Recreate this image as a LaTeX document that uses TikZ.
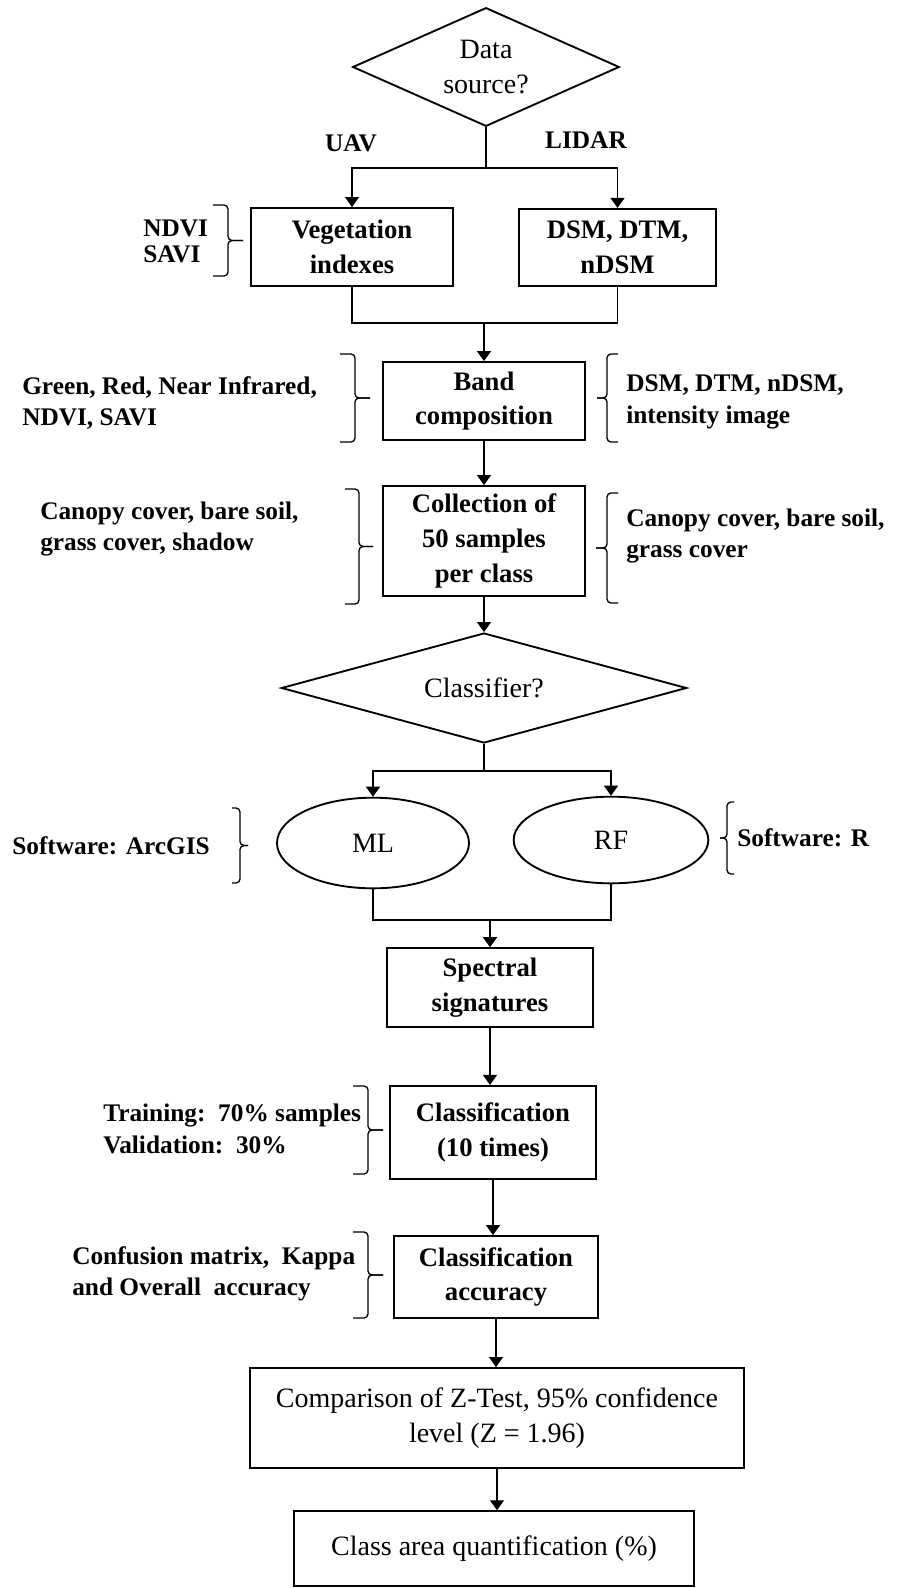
\documentclass[tikz,border=0pt]{standalone}
\usepackage{fontspec}
\setmainfont{Liberation Serif}
\usetikzlibrary{shapes.geometric,arrows.meta}

\tikzset{
  box/.style={draw, line width=1.4pt, inner sep=0pt, align=center, font=\bfseries\fontsize{20}{26}\selectfont},
  plainbox/.style={draw, line width=1.4pt, inner sep=0pt, align=center, font=\fontsize{21}{26}\selectfont},
  decis/.style={draw, diamond, line width=1.4pt, inner sep=0pt, align=center, font=\fontsize{21}{26}\selectfont},
  oval/.style={draw, ellipse, line width=1.4pt, inner sep=0pt, font=\fontsize{21}{26}\selectfont},
  note/.style={inner sep=0pt, align=left, anchor=west, font=\bfseries\fontsize{19}{23.5}\selectfont},
  link/.style={line width=1pt},
  arr/.style={line width=1pt, -{Triangle[length=7.5pt,width=10.5pt]}},
  brk/.style={line width=1pt, rounded corners=3pt},
}

\begin{document}
\begin{tikzpicture}[x=0.75pt,y=0.75pt,yscale=-1,xscale=1]
		\useasboundingbox (0,0) rectangle (902,1588);
		
		% Decision Node
		\draw (486,67) node [decis, minimum width=200pt, minimum height=89pt, aspect=2.25] (dsrc) {Data\\source?};
		% Text Node
		\draw (351,143) node [note, anchor=center] (uav) {UAV};
		% Text Node
		\draw (586,140) node [note, anchor=center] (lidar) {LIDAR};
		% Box Nodes
		\draw (352,247) node [box, minimum width=152pt, minimum height=58.5pt] (veg) {Vegetation\\indexes};
		\draw (617.5,247.5) node [box, minimum width=148pt, minimum height=58pt] (dsm) {DSM, DTM,\\nDSM};
		\draw (484,401) node [box, minimum width=152pt, minimum height=58.5pt] (band) {Band\\composition};
		\draw (484,541) node [box, minimum width=152pt, minimum height=82.5pt] (coll) {Collection of\\50 samples\\per class};
		% Decision Node
		\draw (484,688) node [decis, minimum width=304pt, minimum height=82.5pt, aspect=3.7] (clsf) {Classifier?};
		% Ellipse Nodes
		\draw (373,843) node [oval, minimum width=144pt, minimum height=68pt] (ml) {ML};
		\draw (611,840) node [oval, minimum width=146pt, minimum height=65pt] (rf) {RF};
		% Box Nodes
		\draw (490,987.5) node [box, minimum width=154.5pt, minimum height=59pt] (spec) {Spectral\\signatures};
		\draw (493,1132.5) node [box, minimum width=154pt, minimum height=70pt] (cls) {Classification\\(10 times)};
		\draw (496,1277) node [box, minimum width=153pt, minimum height=61.5pt] (acc) {Classification\\accuracy};
		\draw (497,1418) node [plainbox, minimum width=370pt, minimum height=75pt] (cmp) {Comparison of Z-Test, 95\% confidence\\level (Z = 1.96)};
		\draw (494,1548.5) node [plainbox, minimum width=300pt, minimum height=56pt] (area) {Class area quantification (\%)};
		
		% Text Nodes
		\draw (143,241) node [note, font=\bfseries\fontsize{19}{19.5}\selectfont] (ndvi) {NDVI\\SAVI};
		\draw (22,403) node [note] (bandl) {Green, Red, Near Infrared,\\NDVI, SAVI};
		\draw (626,402) node [note] (bandr) {DSM, DTM, nDSM,\\intensity image};
		\draw (40,529) node [note] (colll) {Canopy cover, bare soil,\\grass cover, shadow};
		\draw (626,536) node [note] (collr) {Canopy cover, bare soil,\\grass cover};
		\draw (12,846) node [note] (mlsw) {Software: ArcGIS};
		\draw (737,838) node [note] (rfsw) {Software: R};
		\draw (103,1129) node [note] (train) {Training:\ \ 70\% samples\\Validation:\ \ 30\%};
		\draw (72,1274) node [note] (conf) {Confusion matrix,\ \ Kappa\\and Overall\ \ accuracy};
		
		% Join Points
		\coordinate (split1) at (486,168);
		\coordinate (join1) at (484,323);
		\coordinate (split2) at (484,771);
		\coordinate (join2) at (490,920);
		
		%Straight Lines
		\draw [link] (dsrc.south) -- (split1);
		\draw [arr] (split1) -| (veg.north);
		\draw [arr] (split1) -| (dsm.north);
		\draw [link] (veg.south) |- (join1) -| (dsm.south);
		\draw [arr] (join1) -- (band.north);
		\draw [arr] (band.south) -- (coll.north);
		\draw [arr] (coll.south) -- (clsf.north);
		\draw [link] (clsf.south) -- (split2);
		\draw [arr] (split2) -| (ml.north);
		\draw [arr] (split2) -| (rf.north);
		\draw [link] (ml.south) |- (join2) -| (rf.south);
		\draw [arr] (join2) -- (spec.north);
		\draw [arr] (spec.south) -- (spec.south |- cls.north);
		\draw [arr] (cls.south) -- (cls.south |- acc.north);
		\draw [arr] (acc.south) -- (acc.south |- cmp.north);
		\draw [arr] (cmp.south) -- (cmp.south |- area.north);
		
		%Braces
		\draw [brk] (213,205) -| (228,240.5) -- (243,240.5);
		\draw [brk] (243,240.5) -- (228,240.5) |- (213,276);
		\draw [brk] (340,354) -| (355,398) -- (370,398);
		\draw [brk] (370,398) -- (355,398) |- (340,442);
		\draw [brk] (345,489) -| (359,546.5) -- (373,546.5);
		\draw [brk] (373,546.5) -- (359,546.5) |- (345,604);
		\draw [brk] (232,808) -| (240,845.5) -- (248,845.5);
		\draw [brk] (248,845.5) -- (240,845.5) |- (232,883);
		\draw [brk] (353,1086) -| (368,1130) -- (383,1130);
		\draw [brk] (383,1130) -- (368,1130) |- (353,1174);
		\draw [brk] (353,1232) -| (368,1275) -- (383,1275);
		\draw [brk] (383,1275) -- (368,1275) |- (353,1318);
		\draw [brk] (618,354) -| (607,398) -- (597,398);
		\draw [brk] (597,398) -- (607,398) |- (618,442);
		\draw [brk] (618,493) -| (607,548) -- (596,548);
		\draw [brk] (596,548) -- (607,548) |- (618,603);
		\draw [brk] (734,802) -| (727,838) -- (720,838);
		\draw [brk] (720,838) -- (727,838) |- (734,874);
	\end{tikzpicture}
\end{document}
